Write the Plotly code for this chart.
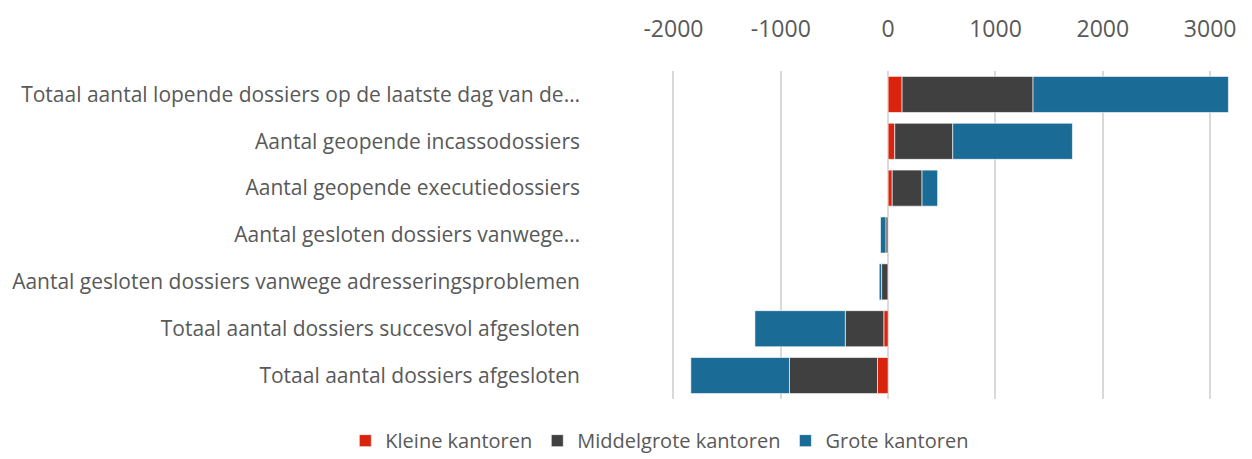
"""Horizontal stacked bar chart: dossiers per kantoorgrootte."""

import plotly.graph_objects as go

CATEGORIES = [
    "Totaal aantal lopende dossiers op de laatste dag van de…",
    "Aantal geopende incassodossiers",
    "Aantal geopende executiedossiers",
    "Aantal gesloten dossiers vanwege…",
    "Aantal gesloten dossiers vanwege adresseringsproblemen",
    "Totaal aantal dossiers succesvol afgesloten",
    "Totaal aantal dossiers afgesloten",
]

KLEINE = [130, 62, 38, -2, -2, -40, -99]
MIDDELGROTE = [1220, 540, 278, -19, -59, -359, -820]
GROTE = [1820, 1115, 145, -50, -22, -842, -919]

TICK_VALUES = [-2000, -1000, 0, 1000, 2000, 3000]
TICK_LABELS = ["-2000", "-1000", "0", "1000", "2000", "3000"]

SERIES = [
    ("Kleine kantoren", KLEINE, "#D9230D"),
    ("Middelgrote kantoren", MIDDELGROTE, "#404040"),
    ("Grote kantoren", GROTE, "#1A6B96"),
]

TEXT_COLOR = "#595959"
GRID_COLOR = "#D9D9D9"
FONT = "Open Sans, Lato, sans-serif"

fig = go.Figure()
for name, values, color in SERIES:
    fig.add_trace(go.Bar(
        y=CATEGORIES, x=values,
        name=name,
        orientation="h",
        marker=dict(color=color, line=dict(color="rgba(255,255,255,0.6)", width=1)),
    ))

fig.update_layout(
    width=1252, height=459,
    barmode="relative",
    bargap=0.23,
    plot_bgcolor="white",
    paper_bgcolor="white",
    font=dict(family=FONT, color=TEXT_COLOR, size=21),
    margin=dict(l=590, r=15, t=63, b=60),
    xaxis=dict(
        side="top",
        range=[-2740, 3250],
        tickvals=TICK_VALUES, ticktext=TICK_LABELS,
        showgrid=True, gridcolor=GRID_COLOR, gridwidth=1.5,
        zeroline=True, zerolinecolor=GRID_COLOR, zerolinewidth=1.5,
        tickfont=dict(size=23),
        ticklabelstandoff=28,
        fixedrange=True,
    ),
    yaxis=dict(
        autorange="reversed",
        showgrid=False,
        ticklabelstandoff=13,
        fixedrange=True,
    ),
    legend=dict(
        orientation="h",
        xref="container", yref="container",
        x=0.527, y=0.04,
        xanchor="center", yanchor="middle",
        font=dict(size=20),
        itemwidth=30,
    ),
)

# drop the default page margin so the figure sits at the window's corner
fig.write_html(
    "out.html",
    config={"displayModeBar": False},
    post_script="document.body.style.margin='0';",
)
